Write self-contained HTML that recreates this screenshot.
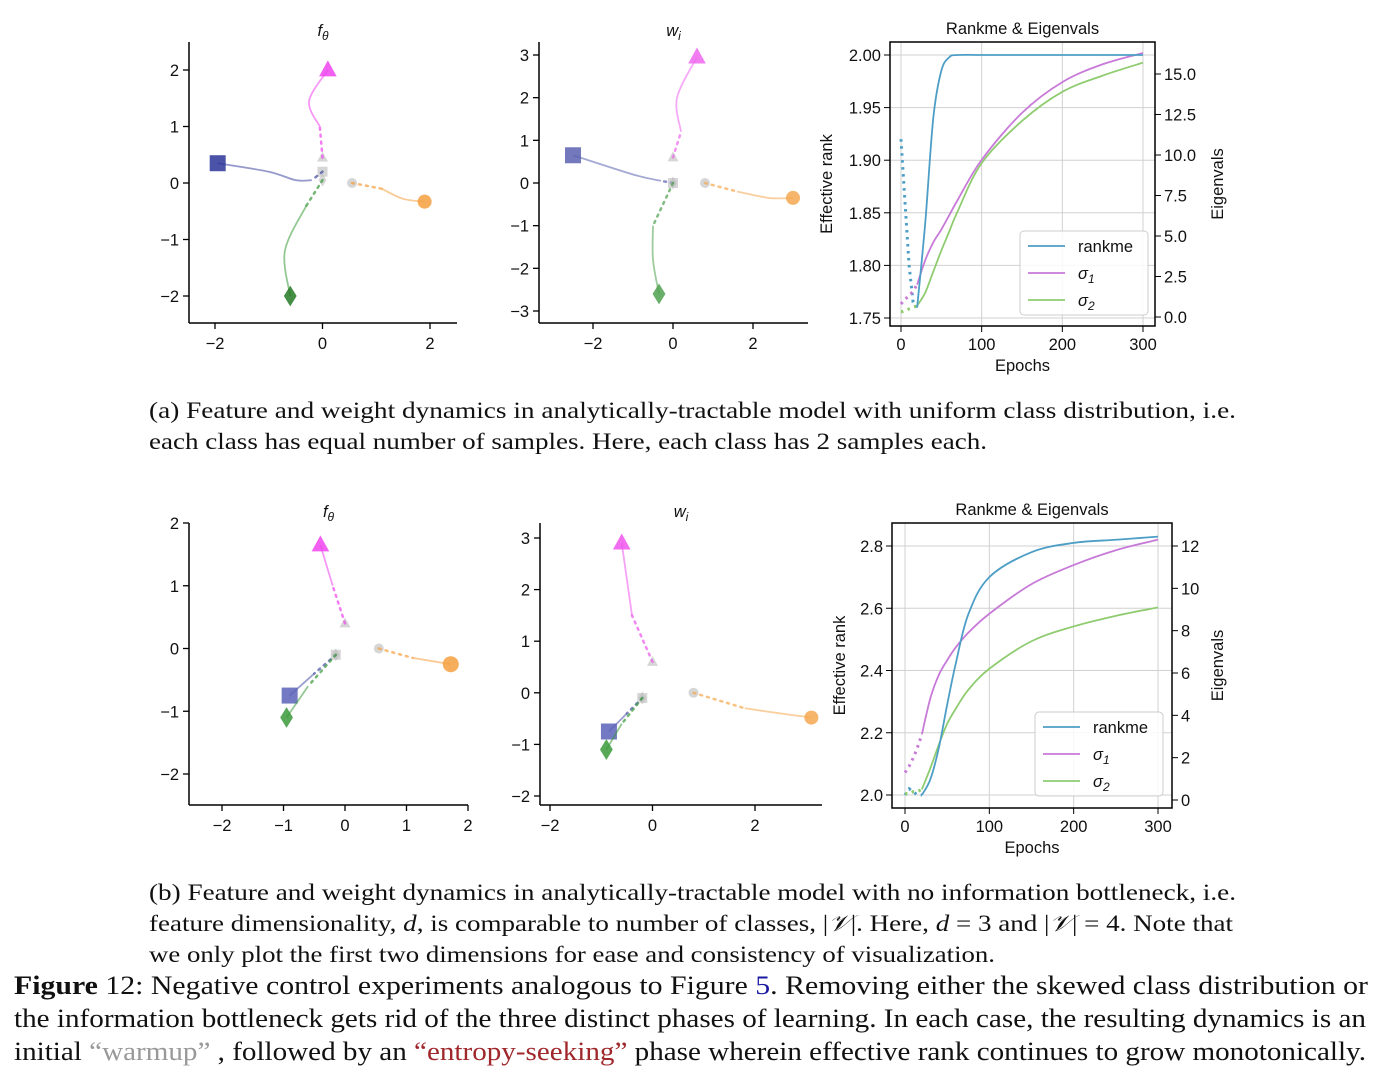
<!DOCTYPE html>
<html><head><meta charset="utf-8">
<style>
html,body{margin:0;padding:0;background:#fff;}
svg{display:block;}
.tk{font-family:"Liberation Sans","DejaVu Sans",sans-serif;font-size:16.5px;fill:#111;}
.cap{font-family:"Liberation Serif",serif;font-size:23px;fill:#111;}
.fig{font-family:"Liberation Serif",serif;font-size:26px;fill:#111;}
</style></head>
<body>
<svg id="root" width="1383" height="1075" viewBox="0 0 1383 1075" xmlns="http://www.w3.org/2000/svg">
<g id="plots"></g>
<text class="cap" x="149" y="418" textLength="1087" lengthAdjust="spacingAndGlyphs">(a) Feature and weight dynamics in analytically-tractable model with uniform class distribution, i.e.</text>
<text class="cap" x="149" y="449" textLength="838" lengthAdjust="spacingAndGlyphs">each class has equal number of samples. Here, each class has 2 samples each.</text>
<text class="cap" x="149" y="900" textLength="1087" lengthAdjust="spacingAndGlyphs">(b) Feature and weight dynamics in analytically-tractable model with no information bottleneck, i.e.</text>
<text class="cap" x="149" y="931" textLength="1084" lengthAdjust="spacingAndGlyphs">feature dimensionality, <tspan font-style="italic">d</tspan>, is comparable to number of classes, |<tspan font-style="italic">𝒱</tspan>|. Here, <tspan font-style="italic">d</tspan> = 3 and |<tspan font-style="italic">𝒱</tspan>| = 4. Note that</text>
<text class="cap" x="149" y="962" textLength="846" lengthAdjust="spacingAndGlyphs">we only plot the first two dimensions for ease and consistency of visualization.</text>
<text class="fig" x="14" y="994" textLength="1354" lengthAdjust="spacingAndGlyphs"><tspan font-weight="bold">Figure</tspan> 12: Negative control experiments analogous to Figure <tspan fill="#1a1aa0">5</tspan>. Removing either the skewed class distribution or</text>
<text class="fig" x="14" y="1027" textLength="1352" lengthAdjust="spacingAndGlyphs">the information bottleneck gets rid of the three distinct phases of learning. In each case, the resulting dynamics is an</text>
<text class="fig" x="14" y="1060" textLength="1352" lengthAdjust="spacingAndGlyphs">initial <tspan fill="#999">“warmup”</tspan> , followed by an <tspan fill="#a0282c">“entropy-seeking”</tspan> phase wherein effective rank continues to grow monotonically.</text>
</svg>
<script>
// ---- trajectory data (data coordinates) ----
const topFeatBlue=[[0,0.2],[-0.2,0.05],[-0.5,0.05],[-1.0,0.2],[-1.95,0.35]];
const topFeatPink=[[0,0.45],[-0.05,1.0],[-0.25,1.45],[0.1,2.0]];
const topFeatGreen=[[0,0.05],[-0.3,-0.4],[-0.7,-1.2],[-0.6,-2.0]];
const topFeatOrange=[[0.55,0],[1.1,-0.1],[1.5,-0.28],[1.9,-0.33]];
const topWBlue=[[0,0],[-0.3,0.05],[-1.0,0.2],[-2.5,0.65]];
const topWPink=[[0,0.6],[0.2,1.2],[0.1,2.0],[0.6,2.95]];
const topWGreen=[[0,0],[-0.5,-1.0],[-0.5,-1.8],[-0.35,-2.6]];
const topWOrange=[[0.8,0],[1.6,-0.2],[2.4,-0.35],[3.0,-0.35]];
const botFeatBlue=[[-0.15,-0.1],[-0.5,-0.4],[-0.9,-0.75]];
const botFeatPink=[[0,0.4],[-0.2,1.0],[-0.4,1.65]];
const botFeatGreen=[[-0.15,-0.1],[-0.6,-0.6],[-0.95,-1.1]];
const botFeatOrange=[[0.55,0],[1.1,-0.15],[1.72,-0.25]];
const botWBlue=[[-0.2,-0.1],[-0.5,-0.4],[-0.85,-0.75]];
const botWPink=[[0,0.6],[-0.4,1.5],[-0.6,2.9]];
const botWGreen=[[-0.2,-0.1],[-0.6,-0.6],[-0.9,-1.1]];
const botWOrange=[[0.8,0],[1.8,-0.3],[2.5,-0.4],[3.1,-0.48]];
// ---- line chart data ----
const topEpochs=[20,30,40,50,60,70,100,150,200,250,300];
const topRank=[1.76,1.84,1.94,1.985,1.998,2.0,2.0,2.0,2.0,2.0,2.0];
const topSig1=[2.0,3.5,4.6,5.4,6.3,7.2,9.7,12.6,14.5,15.6,16.3];
const topSig2=[0.7,1.5,2.8,4.1,5.3,6.5,9.5,12.1,13.9,14.9,15.7];
const topWarmEpochs=[0,5,10,15,20];
const topWarmRank=[1.92,1.86,1.8,1.765,1.76];
const topWarmSig1=[0.8,1.1,1.3,1.6,2.0];
const topWarmSig2=[0.3,0.4,0.5,0.6,0.7];
const botEpochs=[20,30,40,50,60,75,100,150,200,250,300];
const botRank=[2.0,2.05,2.15,2.29,2.42,2.58,2.7,2.78,2.81,2.82,2.83];
const botSig1=[3.1,4.8,5.9,6.6,7.2,7.9,8.8,10.2,11.1,11.8,12.3];
const botSig2=[0.5,1.5,2.6,3.6,4.3,5.2,6.2,7.5,8.2,8.7,9.1];
const botWarmEpochs=[0,5,10,15,20];
const botWarmRank=[2.0,2.02,2.01,2.0,2.0];
const botWarmSig1=[1.3,1.6,2.0,2.5,3.1];
const botWarmSig2=[0.3,0.3,0.4,0.4,0.5];
const xTicksTopF=[-2,0,2],yTicksTopF=[-2,-1,0,1,2];
const xTicksTopW=[-2,0,2],yTicksTopW=[-3,-2,-1,0,1,2,3];
const xTicksBotF=[-2,-1,0,1,2],yTicksBotF=[-2,-1,0,1,2];
const xTicksBotW=[-2,0,2],yTicksBotW=[-2,-1,0,1,2,3];

const NS='http://www.w3.org/2000/svg';
const G=document.getElementById('plots');
function mk(tag,attrs,parent,txt){const e=document.createElementNS(NS,tag);for(const k in attrs)e.setAttribute(k,attrs[k]);if(txt!==undefined)e.textContent=txt;(parent||G).appendChild(e);return e;}
function fmt(v){return v<0?'\u2212'+Math.abs(v):String(v);}
function lin(d0,d1,p0,p1){return v=>p0+(v-d0)*(p1-p0)/(d1-d0);}
function pathD(pts,sx,sy){return pts.map((p,i)=>(i?'L':'M')+sx(p[0]).toFixed(1)+' '+sy(p[1]).toFixed(1)).join(' ');}
function smoothD(pts,sx,sy){const P=pts.map(p=>[sx(p[0]),sy(p[1])]);let d='M'+P[0][0]+' '+P[0][1];for(let i=0;i<P.length-1;i++){const p0=P[i-1]||P[i],p1=P[i],p2=P[i+1],p3=P[i+2]||p2;d+=' C'+(p1[0]+(p2[0]-p0[0])/6)+' '+(p1[1]+(p2[1]-p0[1])/6)+' '+(p2[0]-(p3[0]-p1[0])/6)+' '+(p2[1]-(p3[1]-p1[1])/6)+' '+p2[0]+' '+p2[1];}return d;}

function marker(g,shape,x,y,s,fill,op){
  let e;
  if(shape==='sq')e=mk('rect',{x:x-s,y:y-s,width:2*s,height:2*s,fill:fill,opacity:op},g);
  else if(shape==='tri')e=mk('polygon',{points:`${x},${y-s*1.2} ${x-s*1.1},${y+s*0.8} ${x+s*1.1},${y+s*0.8}`,fill:fill,opacity:op},g);
  else if(shape==='dia')e=mk('polygon',{points:`${x},${y-s*1.3} ${x+s*0.8},${y} ${x},${y+s*1.3} ${x-s*0.8},${y}`,fill:fill,opacity:op},g);
  else e=mk('circle',{cx:x,cy:y,r:s,fill:fill,opacity:op},g);
  return e;
}

function scatterPanel(name,L,R,T,B,xd,xp,yd,yp,xt,yt,title,series){
  const sx=lin(xd[0],xd[1],xp[0],xp[1]),sy=lin(yd[0],yd[1],yp[0],yp[1]);
  const g=mk('g',{},G);
  
  
  series.forEach(s=>{
    const sg=mk('g',{},g);
    
    
    const pts=s.pts;
    marker(sg,s.shape,sx(pts[0][0]),sy(pts[0][1]),5,'#bbb',0.6);
    mk('path',{d:pathD(pts.slice(0,2),sx,sy),fill:'none',stroke:s.color,'stroke-width':2.5,'stroke-dasharray':'2 5','stroke-linecap':'round',opacity:0.7},sg);
    mk('path',{d:smoothD(pts.slice(1),sx,sy),fill:'none',stroke:s.color,'stroke-width':1.8,opacity:0.55},sg);
    const e=pts[pts.length-1];
    marker(sg,s.shape,sx(e[0]),sy(e[1]),s.size||8,s.mcolor||s.color,0.85);
  });
  mk('line',{x1:L,y1:T,x2:L,y2:B,stroke:'#000','stroke-width':1.5},g);
  mk('line',{x1:L,y1:B,x2:R,y2:B,stroke:'#000','stroke-width':1.5},g);
  xt.forEach(v=>{const x=sx(v);mk('line',{x1:x,y1:B,x2:x,y2:B+6,stroke:'#000','stroke-width':1.3},g);const t=mk('text',{x:x,y:B+26,'text-anchor':'middle',class:'tk'},g,fmt(v));});
  yt.forEach(v=>{const y=sy(v);mk('line',{x1:L-6,y1:y,x2:L,y2:y,stroke:'#000','stroke-width':1.3},g);const t=mk('text',{x:L-10,y:y+6,'text-anchor':'end',class:'tk'},g,fmt(v));});
  const tt=mk('text',{x:(L+R)/2,y:T-6,'text-anchor':'middle',class:'tk','font-style':'italic'},g);
  
  
  tt.innerHTML=title;
}

function lineChart(name,L,R,T,B,xp,ld,lp,rd,rp,xt,lt,rt,lfmt,rfmt,ep,rk,s1,s2,wep,wrk,ws1,ws2,leg,lOff,rOff){
  const sx=lin(0,300,xp[0],xp[1]),sl=lin(ld[0],ld[1],lp[0],lp[1]),sr=lin(rd[0],rd[1],rp[0],rp[1]);
  const g=mk('g',{},G);
  
  
  xt.forEach(v=>mk('line',{x1:sx(v),y1:T,x2:sx(v),y2:B,stroke:'#d0d0d0','stroke-width':1},g));
  lt.forEach(v=>mk('line',{x1:L,y1:sl(v),x2:R,y2:sl(v),stroke:'#d0d0d0','stroke-width':1},g));
  const C={r:'#4d9ec6',a:'#c87ad8',b:'#8fcc70'};
  function ser(xs,ys,sc,col,dash,nm){const pts=xs.map((x,i)=>[x,ys[i]]);const p=mk('path',{d:dash?pathD(pts,sx,sc):smoothD(pts,sx,sc),fill:'none',stroke:col,'stroke-width':dash?3:1.8,'stroke-dasharray':dash?'2.5 4.5':'none'},g);}
  ser(wep,wrk,sl,C.r,true,'rankme-warmup');ser(wep,ws1,sr,C.a,true,'sigma1-warmup');ser(wep,ws2,sr,C.b,true,'sigma2-warmup');
  ser(ep,s2,sr,C.b,false,'sigma2-line');ser(ep,s1,sr,C.a,false,'sigma1-line');ser(ep,rk,sl,C.r,false,'rankme-line');
  mk('rect',{x:L,y:T,width:R-L,height:B-T,fill:'none',stroke:'#000','stroke-width':1.5},g);
  xt.forEach(v=>{mk('line',{x1:sx(v),y1:B,x2:sx(v),y2:B+6,stroke:'#000'},g);const t=mk('text',{x:sx(v),y:B+24,'text-anchor':'middle',class:'tk'},g,String(v));});
  lt.forEach(v=>{mk('line',{x1:L-6,y1:sl(v),x2:L,y2:sl(v),stroke:'#000'},g);const t=mk('text',{x:L-9,y:sl(v)+6,'text-anchor':'end',class:'tk'},g,v.toFixed(lfmt));});
  rt.forEach(v=>{mk('line',{x1:R,y1:sr(v),x2:R+6,y2:sr(v),stroke:'#000'},g);const t=mk('text',{x:R+9,y:sr(v)+6,class:'tk'},g,v.toFixed(rfmt));});
  let t=mk('text',{x:(L+R)/2,y:T-8,'text-anchor':'middle',class:'tk'},g,'Rankme & Eigenvals');
  t=mk('text',{x:(L+R)/2,y:B+45,'text-anchor':'middle',class:'tk'},g,'Epochs');
  const cy=(T+B)/2;
  t=mk('text',{x:0,y:0,'text-anchor':'middle',class:'tk',transform:`translate(${L-lOff},${cy}) rotate(-90)`},g,'Effective rank');
  t=mk('text',{x:0,y:0,'text-anchor':'middle',class:'tk',transform:`translate(${R+rOff},${cy}) rotate(-90)`},g,'Eigenvals');
  const lg=mk('g',{},g);
  
  
  mk('rect',{x:leg[0],y:leg[1],width:128,height:84,rx:4,fill:'#fff','fill-opacity':0.85,stroke:'#ccc'},lg);
  [['rankme',C.r],['σ<tspan font-size="12" dy="4">1</tspan>',C.a],['σ<tspan font-size="12" dy="4">2</tspan>',C.b]].forEach((e,i)=>{
    const y=leg[1]+15+i*27;
    mk('line',{x1:leg[0]+8,y1:y,x2:leg[0]+45,y2:y,stroke:e[1],'stroke-width':1.8},lg);
    const tx=mk('text',{x:leg[0]+58,y:y+6,class:'tk','font-style':i?'italic':'normal'},lg);
    
    
    tx.innerHTML=e[0];
  });
}

scatterPanel('top-feature-panel',189,457,42,323,[-2,2],[215,430],[-2,2],[296,70],xTicksTopF,yTicksTopF,'f<tspan font-size="12" dy="4">θ</tspan>',[
 {name:'class-blue',pts:topFeatBlue,color:'#3e46a0',mcolor:'#2a3598',shape:'sq'},
 {name:'class-pink',pts:topFeatPink,color:'#ee44ee',shape:'tri'},
 {name:'class-green',pts:topFeatGreen,color:'#3a9a3a',mcolor:'#257a25',shape:'dia'},
 {name:'class-orange',pts:topFeatOrange,color:'#f5a040',shape:'circ',size:7}]);
scatterPanel('top-weight-panel',539,808,42,323,[-2,2],[593,753],[-3,3],[311,55],xTicksTopW,yTicksTopW,'w<tspan font-size="12" dy="4">i</tspan>',[
 {name:'class-blue',pts:topWBlue,color:'#5a62b0',shape:'sq'},
 {name:'class-pink',pts:topWPink,color:'#ee66ee',shape:'tri'},
 {name:'class-green',pts:topWGreen,color:'#4fa04f',shape:'dia'},
 {name:'class-orange',pts:topWOrange,color:'#f5a850',shape:'circ',size:7}]);
scatterPanel('bottom-feature-panel',189,468,523,805,[-2,2],[222,468],[-2,2],[774,523],xTicksBotF,yTicksBotF,'f<tspan font-size="12" dy="4">θ</tspan>',[
 {name:'class-blue',pts:botFeatBlue,color:'#4a52a8',mcolor:'#5a62b8',shape:'sq'},
 {name:'class-pink',pts:botFeatPink,color:'#ee44ee',shape:'tri'},
 {name:'class-green',pts:botFeatGreen,color:'#3a9a3a',shape:'dia'},
 {name:'class-orange',pts:botFeatOrange,color:'#f5a040',shape:'circ',size:8}]);
scatterPanel('bottom-weight-panel',540,822,523,805,[-2,2],[550,755],[-2,3],[796,538],xTicksBotW,yTicksBotW,'w<tspan font-size="12" dy="4">i</tspan>',[
 {name:'class-blue',pts:botWBlue,color:'#4a52a8',mcolor:'#5a62b8',shape:'sq'},
 {name:'class-pink',pts:botWPink,color:'#ee55ee',shape:'tri'},
 {name:'class-green',pts:botWGreen,color:'#3a9a3a',shape:'dia'},
 {name:'class-orange',pts:botWOrange,color:'#f5a850',shape:'circ',size:7}]);
lineChart('top-rankme-chart',890,1155,42,326,[901,1143],[1.75,2.0],[318,55],[0,15],[317,74],
 [0,100,200,300],[1.75,1.8,1.85,1.9,1.95,2.0],[0,2.5,5,7.5,10,12.5,15],2,1,
 topEpochs,topRank,topSig1,topSig2,topWarmEpochs,topWarmRank,topWarmSig1,topWarmSig2,[1020,231],58,68);
lineChart('bottom-rankme-chart',892,1172,523,808,[905,1158],[2.0,2.8],[795,546],[0,12],[800,546],
 [0,100,200,300],[2.0,2.2,2.4,2.6,2.8],[0,2,4,6,8,10,12],1,0,
 botEpochs,botRank,botSig1,botSig2,botWarmEpochs,botWarmRank,botWarmSig1,botWarmSig2,[1035,712],47,51);
</script>
</body></html>
